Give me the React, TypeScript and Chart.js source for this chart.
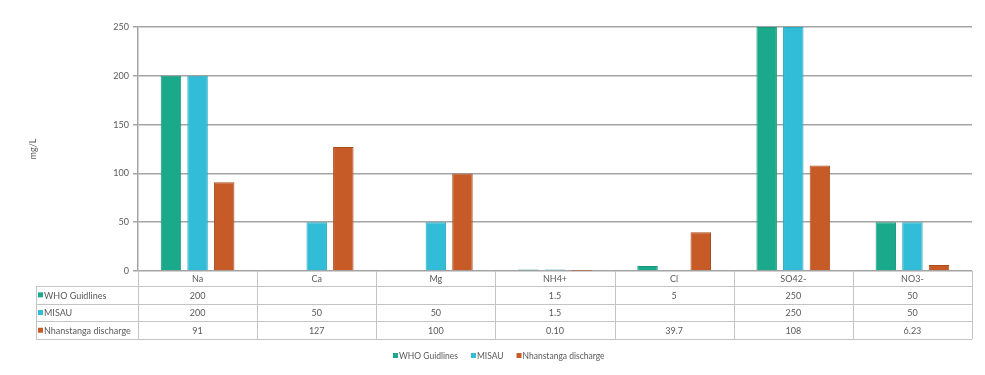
import React, { useEffect, useRef } from "react";
import { Chart, registerables } from "chart.js";

Chart.register(...registerables);

const categories = ["Na", "Ca", "Mg", "NH4+", "Cl", "SO42-", "NO3-"];
const seriesNames = ["WHO Guidlines", "MISAU", "Nhanstanga discharge"];
const whoValues: (number | null)[] = [200, null, null, 1.5, 5, 250, 50];
const misauValues: (number | null)[] = [200, 50, 50, 1.5, null, 250, 50];
const dischargeValues: (number | null)[] = [91, 127, 100, 0.1, 39.7, 108, 6.23];
const yTicks = [0, 50, 100, 150, 200, 250];
const yTitle = "mg/L";

const colors = ["#1aa98a", "#31bcd7", "#c65b27"];
const borders = ["#17977b", "#2aa9c2", "#a84b1f"];
const FONT = "Lato, 'Open Sans', sans-serif";
const TEXT = "#595959";

function fmt(v: number | null): string {
  if (v === null) return "";
  return v < 1 ? v.toFixed(2) : String(v);
}

const tablePlugin = {
  id: "dataTable",
  afterDraw(chart: any) {
    const ctx = chart.ctx as CanvasRenderingContext2D;
    const area = chart.chartArea;
    const n = categories.length;
    const cw = (area.right - area.left) / n;
    const top = area.bottom;
    const headerH = 15;
    const rowH = 17.7;
    const labelLeft = 28;
    const rows = [whoValues, misauValues, dischargeValues];
    const bottom = top + headerH + rowH * rows.length;
    ctx.save();
    // y title
    ctx.save();
    ctx.translate(25, (area.top + area.bottom) / 2);
    ctx.rotate(-Math.PI / 2);
    ctx.fillStyle = TEXT;
    ctx.font = `9px ${FONT}`;
    ctx.textAlign = "center";
    ctx.textBaseline = "middle";
    ctx.fillText(yTitle, 0, 0);
    ctx.restore();

    ctx.strokeStyle = "#c4c4c4";
    ctx.lineWidth = 1;
    ctx.beginPath();
    for (let i = 0; i <= n; i++) {
      const x = Math.round(area.left + cw * i) + 0.5;
      ctx.moveTo(x, top);
      ctx.lineTo(x, bottom);
    }
    ctx.moveTo(labelLeft + 0.5, top + headerH);
    ctx.lineTo(labelLeft + 0.5, bottom);
    for (let r = 0; r <= rows.length; r++) {
      const y = Math.round(top + headerH + rowH * r) + 0.5;
      ctx.moveTo(labelLeft, y);
      ctx.lineTo(area.right, y);
    }
    ctx.stroke();

    ctx.font = `9px ${FONT}`;
    ctx.fillStyle = TEXT;
    ctx.textBaseline = "middle";
    ctx.textAlign = "center";
    for (let i = 0; i < n; i++) {
      const cx = area.left + cw * (i + 0.5);
      ctx.fillText(categories[i], cx, top + headerH / 2 + 1);
      rows.forEach((row, r) => {
        ctx.fillText(fmt(row[i]), cx, top + headerH + rowH * (r + 0.5) + 1);
      });
    }
    rows.forEach((_, r) => {
      const cy = top + headerH + rowH * (r + 0.5);
      ctx.fillStyle = colors[r];
      ctx.fillRect(labelLeft + 2, cy - 2.5, 5, 5);
      ctx.fillStyle = TEXT;
      ctx.textAlign = "left";
      ctx.fillText(seriesNames[r], labelLeft + 8, cy + 1);
    });

    // legend
    const ly = 348;
    const gap = 12;
    ctx.font = `8.5px ${FONT}`;
    const widths = seriesNames.map((s) => 7 + ctx.measureText(s).width);
    let lx = 385;
    seriesNames.forEach((s, i) => {
      ctx.fillStyle = colors[i];
      ctx.fillRect(lx, ly - 3, 5, 5);
      ctx.fillStyle = TEXT;
      ctx.textAlign = "left";
      ctx.fillText(s, lx + 6, ly + 0.5);
      lx += widths[i] + gap;
    });
    ctx.restore();
  },
};

export default function App() {
  const ref = useRef<HTMLCanvasElement>(null);
  useEffect(() => {
    if (!ref.current) return;
    const chart = new Chart(ref.current, {
      type: "bar",
      data: {
        labels: categories,
        datasets: [whoValues, misauValues, dischargeValues].map((d, i) => ({
          label: seriesNames[i],
          data: d,
          backgroundColor: colors[i],
          borderColor: borders[i],
          borderWidth: 1,
          categoryPercentage: 0.67,
          barPercentage: 0.77,
        })),
      },
      options: {
        responsive: false,
        animation: false,
        devicePixelRatio: 1,
        layout: { padding: { left: 0, right: 12, top: 19, bottom: 103 } },
        plugins: { legend: { display: false }, tooltip: { enabled: false } },
        scales: {
          x: { display: false },
          y: {
            min: 0,
            max: 250,
            afterFit: (s: any) => {
              s.width = 130;
            },
            afterBuildTicks: (s: any) => {
              s.ticks = yTicks.map((v) => ({ value: v }));
            },
            ticks: {
              color: TEXT,
              font: { family: FONT, size: 9 },
              padding: 4,
            },
            grid: {
              color: "#a4a4a4",
              lineWidth: 1.5,
              tickLength: 5,
            },
            border: { display: true, color: "#a4a4a4", width: 1.5 },
          },
        },
      },
      plugins: [tablePlugin],
    });
    return () => chart.destroy();
  }, []);
  return (
    <div
      style={{
        width: 977,
        height: 367,
        borderLeft: "1px solid #e2e2e2",
        borderTop: "1px solid #e2e2e2",
        boxSizing: "border-box",
        margin: "-1px 0 0 -1px",
      }}
    >
      <canvas ref={ref} width={976} height={366} style={{ display: "block" }} />
    </div>
  );
}
